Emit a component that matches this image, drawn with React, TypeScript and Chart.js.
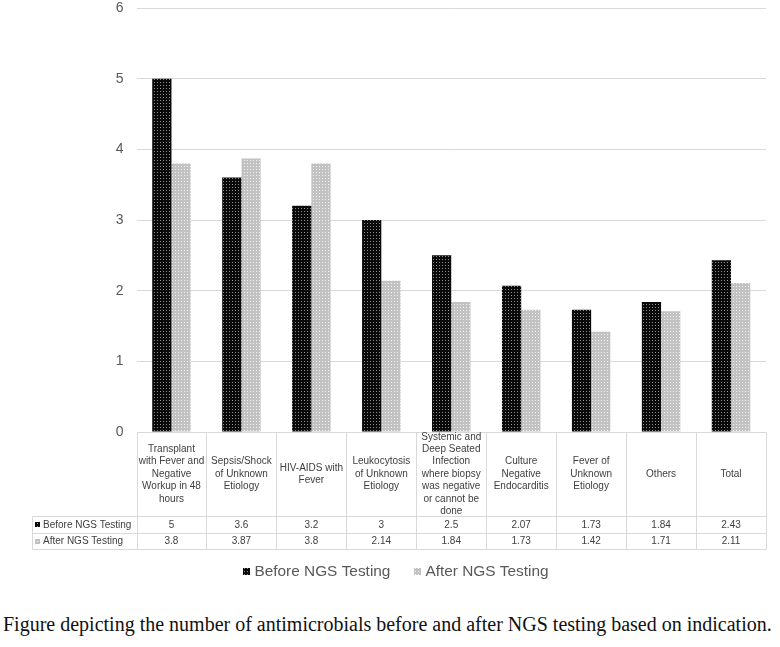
import React, { useEffect, useRef } from "react";
import { Chart, registerables } from "chart.js";

Chart.register(...registerables);

const categories: string[][] = [
  ["Transplant", "with Fever and", "Negative", "Workup in 48", "hours"],
  ["Sepsis/Shock", "of Unknown", "Etiology"],
  ["HIV-AIDS with", "Fever"],
  ["Leukocytosis", "of Unknown", "Etiology"],
  ["Systemic and", "Deep Seated", "Infection", "where biopsy", "was negative", "or cannot be", "done"],
  ["Culture", "Negative", "Endocarditis"],
  ["Fever of", "Unknown", "Etiology"],
  ["Others"],
  ["Total"],
];

const beforeValues = [5, 3.6, 3.2, 3, 2.5, 2.07, 1.73, 1.84, 2.43];
const afterValues = [3.8, 3.87, 3.8, 2.14, 1.84, 1.73, 1.42, 1.71, 2.11];
const beforeLabels = ["5", "3.6", "3.2", "3", "2.5", "2.07", "1.73", "1.84", "2.43"];
const afterLabels = ["3.8", "3.87", "3.8", "2.14", "1.84", "1.73", "1.42", "1.71", "2.11"];
const seriesNames = ["Before NGS Testing", "After NGS Testing"];
const yMin = 0;
const yMax = 6;
const yStep = 1;
const caption =
  "Figure depicting the number of antimicrobials before and after NGS testing based on indication.";

const SANS = '"Liberation Sans", Arial, sans-serif';

function makePattern(bg: string, dot: string, size: number, dots: number[][]) {
  const c = document.createElement("canvas");
  c.width = size;
  c.height = size;
  const g = c.getContext("2d")!;
  g.fillStyle = bg;
  g.fillRect(0, 0, size, size);
  g.fillStyle = dot;
  dots.forEach(([x, y]) => g.fillRect(x, y, 1, 1));
  const ctx = document.createElement("canvas").getContext("2d")!;
  return ctx.createPattern(c, "repeat")!;
}

export default function App() {
  const ref = useRef<HTMLCanvasElement>(null);

  useEffect(() => {
    if (!ref.current) return;
    const beforeFill = makePattern("#0a0a0a", "#8c8c8c", 3, [[1, 1]]);
    const afterFill = makePattern("#c2c2c2", "#f2f2f2", 3, [[1, 1]]);
    const fills = [beforeFill, afterFill];

    const px = (v: number) => Math.round(v) + 0.5;

    const tablePlugin = {
      id: "dataTable",
      afterDraw(chart: any) {
        const ctx: CanvasRenderingContext2D = chart.ctx;
        const xs = chart.scales.x;
        const { left, right, bottom } = chart.chartArea;
        const n = categories.length;
        const colW = (right - left) / n;
        const headTop = bottom;
        const headBottom = bottom + 84;
        const r1 = headBottom + 16.7;
        const r2 = r1 + 16.5;
        const labelLeft = 32;

        ctx.save();
        ctx.strokeStyle = "#d9d9d9";
        ctx.lineWidth = 1;
        const line = (x1: number, y1: number, x2: number, y2: number) => {
          ctx.beginPath();
          ctx.moveTo(x1, y1);
          ctx.lineTo(x2, y2);
          ctx.stroke();
        };
        line(px(left), px(headTop), px(right), px(headTop));
        line(px(labelLeft), px(headBottom), px(right), px(headBottom));
        line(px(labelLeft), px(r1), px(right), px(r1));
        line(px(labelLeft), px(r2), px(right), px(r2));
        for (let i = 0; i <= n; i++) {
          const xv = px(left + i * colW);
          line(xv, px(headTop), xv, px(r2));
        }
        line(px(labelLeft), px(headBottom), px(labelLeft), px(r2));

        ctx.fillStyle = "#404040";
        ctx.textAlign = "center";
        ctx.textBaseline = "middle";
        ctx.font = `10px ${SANS}`;
        const lh = 12.4;
        categories.forEach((lines, i) => {
          const cx = xs.getPixelForValue(i);
          const startY = (headTop + headBottom) / 2 - ((lines.length - 1) * lh) / 2;
          lines.forEach((t, j) => ctx.fillText(t, cx, startY + j * lh));
        });
        const rowMid1 = (headBottom + r1) / 2 + 0.5;
        const rowMid2 = (r1 + r2) / 2 + 0.5;
        beforeLabels.forEach((t, i) => ctx.fillText(t, xs.getPixelForValue(i), rowMid1));
        afterLabels.forEach((t, i) => ctx.fillText(t, xs.getPixelForValue(i), rowMid2));

        // row headers
        ctx.textAlign = "left";
        ctx.font = `10px ${SANS}`;
        [rowMid1, rowMid2].forEach((ym, k) => {
          ctx.fillStyle = fills[k];
          ctx.fillRect(35, Math.round(ym - 2.5), 5, 5);
          ctx.fillStyle = "#404040";
          ctx.fillText(seriesNames[k], 43, ym);
        });

        // legend
        ctx.font = `15.4px ${SANS}`;
        const keySize = 7;
        const gapKey = 4;
        const gapItems = 24;
        const widths = seriesNames.map((s) => ctx.measureText(s).width);
        const total =
          widths.reduce((a, b) => a + b, 0) + 2 * (keySize + gapKey) + gapItems;
        let lx = 396 - total / 2;
        const ly = 571.5;
        seriesNames.forEach((s, k) => {
          ctx.fillStyle = fills[k];
          ctx.fillRect(Math.round(lx), Math.round(ly - keySize / 2), keySize, keySize);
          ctx.fillStyle = "#595959";
          ctx.fillText(s, lx + keySize + gapKey, ly);
          lx += keySize + gapKey + widths[k] + gapItems;
        });
        ctx.restore();
      },
    };

    const chart = new Chart(ref.current, {
      type: "bar",
      data: {
        labels: categories.map((c) => c.join(" ")),
        datasets: [
          {
            label: seriesNames[0],
            data: beforeValues,
            backgroundColor: beforeFill as any,
            borderWidth: 0,
            barPercentage: 1,
            categoryPercentage: 0.55,
          },
          {
            label: seriesNames[1],
            data: afterValues,
            backgroundColor: afterFill as any,
            borderWidth: 0,
            barPercentage: 1,
            categoryPercentage: 0.55,
          },
        ],
      },
      options: {
        responsive: false,
        animation: false,
        layout: { padding: { top: 8, left: 0, right: 14, bottom: 168 } },
        plugins: {
          legend: { display: false },
          tooltip: { enabled: false },
        },
        scales: {
          x: {
            display: false,
            grid: { display: false },
          },
          y: {
            min: yMin,
            max: yMax,
            ticks: {
              stepSize: yStep,
              padding: 13,
              color: "#595959",
              font: { family: SANS, size: 14 },
            },
            grid: { color: "#d9d9d9", drawTicks: false },
            border: { display: false },
            afterFit: (scale: any) => {
              scale.width = 136.5;
              scale.paddingTop = 0;
              scale.paddingBottom = 0;
            },
          },
        },
      },
      plugins: [tablePlugin],
    });
    return () => chart.destroy();
  }, []);

  return (
    <div
      style={{
        position: "fixed",
        left: 0,
        top: 0,
        width: 780,
        height: 647,
        background: "#ffffff",
      }}
    >
      <canvas
        ref={ref}
        width={780}
        height={600}
        style={{ position: "absolute", left: 0, top: 0, display: "block" }}
      />
      <div
        style={{
          position: "absolute",
          left: 3,
          top: 614,
          fontFamily: '"Liberation Serif", "Times New Roman", serif',
          fontSize: 20,
          lineHeight: 1,
          whiteSpace: "nowrap",
          color: "#111",
        }}
      >
        {caption}
      </div>
    </div>
  );
}
